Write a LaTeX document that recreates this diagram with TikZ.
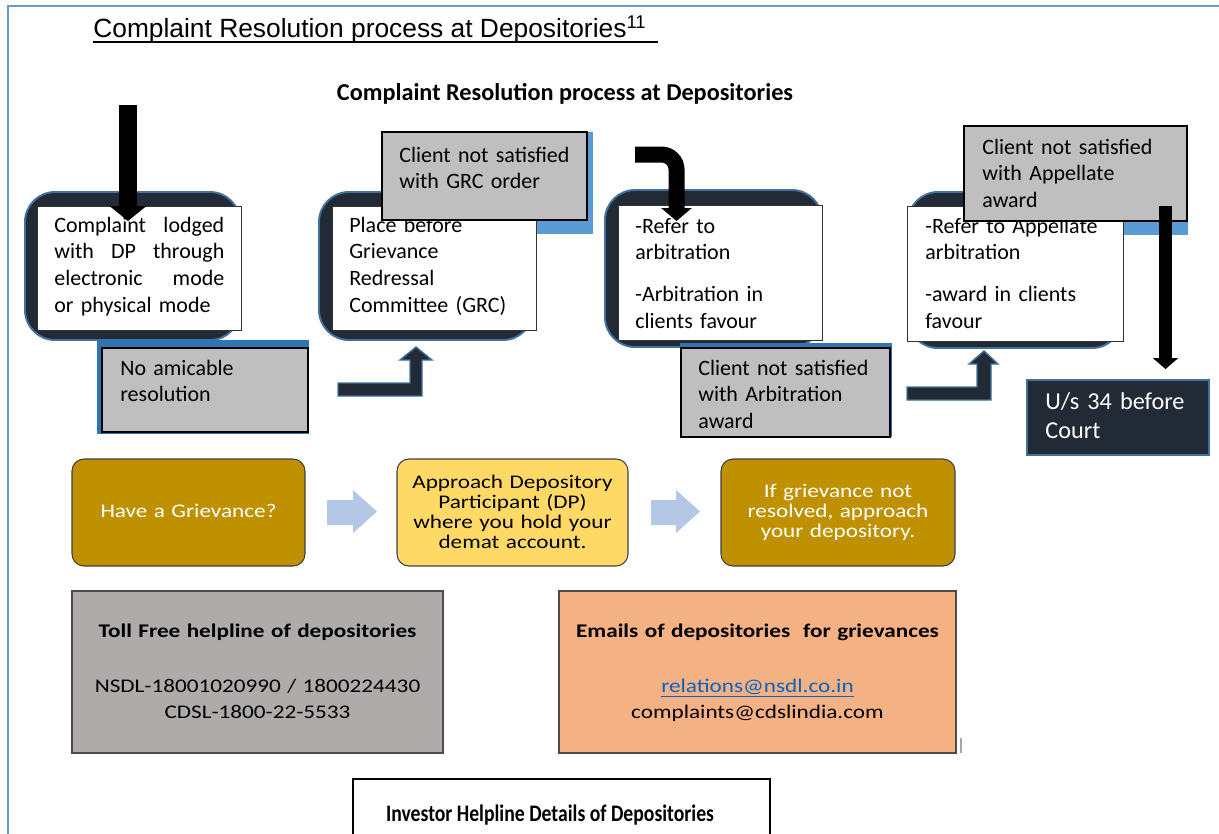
\documentclass[tikz,border=0pt]{standalone}
\usepackage{fontspec}
\setmainfont{Carlito}
\newfontfamily\arialfont{Liberation Sans}
\newfontfamily\widefont[FakeStretch=1.2]{Carlito}
\newfontfamily\narrowfont[FakeStretch=0.83]{Carlito}
\usetikzlibrary{arrows.meta}
\definecolor{navy}{HTML}{222A35}
\definecolor{blueedge}{HTML}{41719C}
\definecolor{striplight}{HTML}{5B9BD5}
\definecolor{stripdark}{HTML}{2E75B6}
\definecolor{boxgray}{HTML}{BFBFBF}
\definecolor{gold}{HTML}{BF9000}
\definecolor{paleyellow}{HTML}{FFD966}
\definecolor{arrowblue}{HTML}{B4C7E7}
\definecolor{tollgray}{HTML}{AFABAB}
\definecolor{peach}{HTML}{F4B183}
\definecolor{frameblue}{HTML}{6A9AD0}
\definecolor{linkblue}{HTML}{0563C1}

\begin{document}
\begin{tikzpicture}[x=0.02cm,y=-0.02cm,line join=miter,
  darkbox/.style={fill=navy,draw=blueedge,line width=1.1pt,rounded corners=0.6cm},
  whitebox/.style={fill=white,draw=black!80,line width=0.5pt},
  graybox/.style={fill=boxgray,draw=black,line width=1pt},
  bentarrow/.style={fill=navy,draw=blueedge,line width=0.8pt},
  roundbox/.style={draw=black!75,line width=0.6pt,rounded corners=0.24cm},
  infobox/.style={draw=black!70,line width=0.8pt},
  boxtext/.style={anchor=base west,inner sep=0pt,text width=#1,align=left,
    font=\fontsize{12.5}{15.3}\selectfont},
  widetext/.style={anchor=base,inner sep=0pt,text width=#1,align=center,
    font=\widefont\fontsize{11}{11.4}\selectfont},
  infotext/.style={anchor=base,inner sep=0pt,text width=#1,align=center,
    font=\widefont\fontsize{11}{15.3}\selectfont}]
  \useasboundingbox (0,0) rectangle (1219,833);
  % frame
  \draw[frameblue,line width=0.9pt] (8,850) -- (8,6) -- (1230,6);
  % headings
  \node[anchor=base west,inner sep=0pt,font=\arialfont\fontsize{15}{18}\selectfont] (title)
    at (93,37.5) {Complaint Resolution process at Depositories\textsuperscript{11}};
  \draw[line width=0.9pt] (93,42) -- (658,42);
  \node[anchor=base,inner sep=0pt,font=\bfseries\fontsize{13.8}{16}\selectfont] (subtitle)
    at (565,100) {Complaint Resolution process at Depositories};

  % step 1
  \draw[darkbox] (25,192) rectangle (240,340);
  \draw[whitebox] (37,206) rectangle (241,330);
  \node[boxtext=3.4cm] (lodged) at (54,232)
    {Complaint\hfill lodged\\with\hfill DP\hfill through\\electronic\hfill mode\\or physical mode};
  \draw[line width=0.36cm,-{Triangle[width=0.72cm,length=0.3cm]}] (128,105) -- (128,221);
  \fill[stripdark] (97,340) rectangle (309,434);
  \draw[graybox] (102,348) rectangle (308,432);
  \node[boxtext=3cm] (amicable) at (120,375) {No amicable\\resolution};
  \draw[bentarrow] (338,383) -- (410,383) -- (410,360) -- (400,360) -- (416,347)
    -- (432,360) -- (422,360) -- (422,396) -- (338,396) -- cycle;

  % step 2
  \draw[darkbox] (319,192) rectangle (533,340);
  \fill[striplight] (382,132) rectangle (593,234);
  \draw[whitebox] (332,206) rectangle (536,330);
  \node[boxtext=3.6cm] (grc) at (349,232) {Place before\\Grievance\\Redressal\\Committee (GRC)};
  \draw[graybox] (382,132) rectangle (587,220);
  \node[boxtext=3.8cm] (grcorder) at (399,162) {Client not satisfied\\with GRC order};

  % step 3
  \draw[darkbox] (605,190) rectangle (822,347);
  \draw[whitebox] (618,205) rectangle (822,340);
  \node[boxtext=3.6cm] (arbitration) at (635,233)
    {-Refer to\\arbitration\\[0.3cm]-Arbitration in\\clients favour};
  \draw[line width=0.32cm,rounded corners=0.3cm,-{Triangle[width=0.6cm,length=0.26cm]}]
    (635,154.5) -- (676.5,154.5) -- (676.5,221);
  \fill[stripdark] (680,343) rectangle (892,437);
  \draw[graybox] (681,348) rectangle (890,437);
  \node[boxtext=3.8cm] (arbaward) at (698,375) {Client not satisfied\\with Arbitration\\award};
  \draw[bentarrow] (907,387) -- (977,387) -- (977,364) -- (969,364) -- (984,351)
    -- (998,364) -- (991,364) -- (991,400) -- (907,400) -- cycle;

  % step 4
  \draw[darkbox] (908,192) rectangle (1122,348);
  \fill[striplight] (964,126) rectangle (1188,235);
  \draw[whitebox] (907,206) rectangle (1123,341);
  \node[boxtext=4cm] (appellate) at (925,233)
    {-Refer to Appellate\\arbitration\\[0.3cm]-award in clients\\favour};
  \draw[graybox] (964,126) rectangle (1187,221);
  \node[boxtext=3.8cm] (appaward) at (982,154) {Client not satisfied\\with Appellate\\award};
  \draw[line width=0.27cm,-{Triangle[width=0.5cm,length=0.22cm]}] (1165.5,206) -- (1165.5,369);
  \draw[fill=navy,draw=blueedge,line width=1.2pt] (1027,380) rectangle (1209,455);
  \node[anchor=base west,inner sep=0pt,text width=3.4cm,align=left,text=white,
    font=\fontsize{13.8}{17}\selectfont] (court) at (1045,409) {U/s 34 before\\Court};

  % grievance steps
  \draw[roundbox,fill=gold] (72,459) rectangle (305,566);
  \node[widetext=4.4cm,text=white] (grievance) at (188.5,517) {Have a Grievance?};
  \fill[arrowblue] (327,500) -- (353,500) -- (353,490) -- (377,511.5) -- (353,533)
    -- (353,525) -- (327,525) -- cycle;
  \draw[roundbox,fill=paleyellow] (397,459) rectangle (628,566);
  \node[widetext=4.5cm] (approach) at (512.5,488)
    {Approach Depository\\Participant (DP)\\where you hold your\\demat account.};
  \fill[arrowblue] (651,500) -- (676,500) -- (676,490) -- (700,511.5) -- (676,533)
    -- (676,525) -- (651,525) -- cycle;
  \draw[roundbox,fill=gold] (721,459) rectangle (955,566);
  \node[widetext=4.5cm,text=white] (depository) at (838,497)
    {If grievance not\\resolved, approach\\your depository.};

  % helplines
  \draw[infobox,fill=tollgray] (72,591) rectangle (443,753);
  \node[infotext=7cm,font=\widefont\bfseries\fontsize{11}{13}\selectfont] (tollhead) at (257.5,637)
    {Toll Free helpline of depositories};
  \node[infotext=7cm] (tollnumbers) at (257.5,692)
    {NSDL-18001020990 / 1800224430\\CDSL-1800-22-5533};
  \draw[infobox,fill=peach] (559,591) rectangle (956,753);
  \node[infotext=7.6cm,font=\widefont\bfseries\fontsize{11}{13}\selectfont] (mailhead) at (757.5,637)
    {Emails of depositories\ \ for grievances};
  \node[infotext=7.6cm] (mails) at (757.5,692)
    {\textcolor{linkblue}{\underline{relations@nsdl.co.in}}\\complaints@cdslindia.com};
  \draw[black!35,line width=0.6pt] (961,738) -- (961,753);
  \draw[line width=0.9pt] (353,779) rectangle (770,850);
  \node[anchor=base,inner sep=0pt,font=\narrowfont\bfseries\fontsize{13.5}{16}\selectfont] (helpline)
    at (550,821) {Investor Helpline Details of Depositories};
\end{tikzpicture}
\end{document}
